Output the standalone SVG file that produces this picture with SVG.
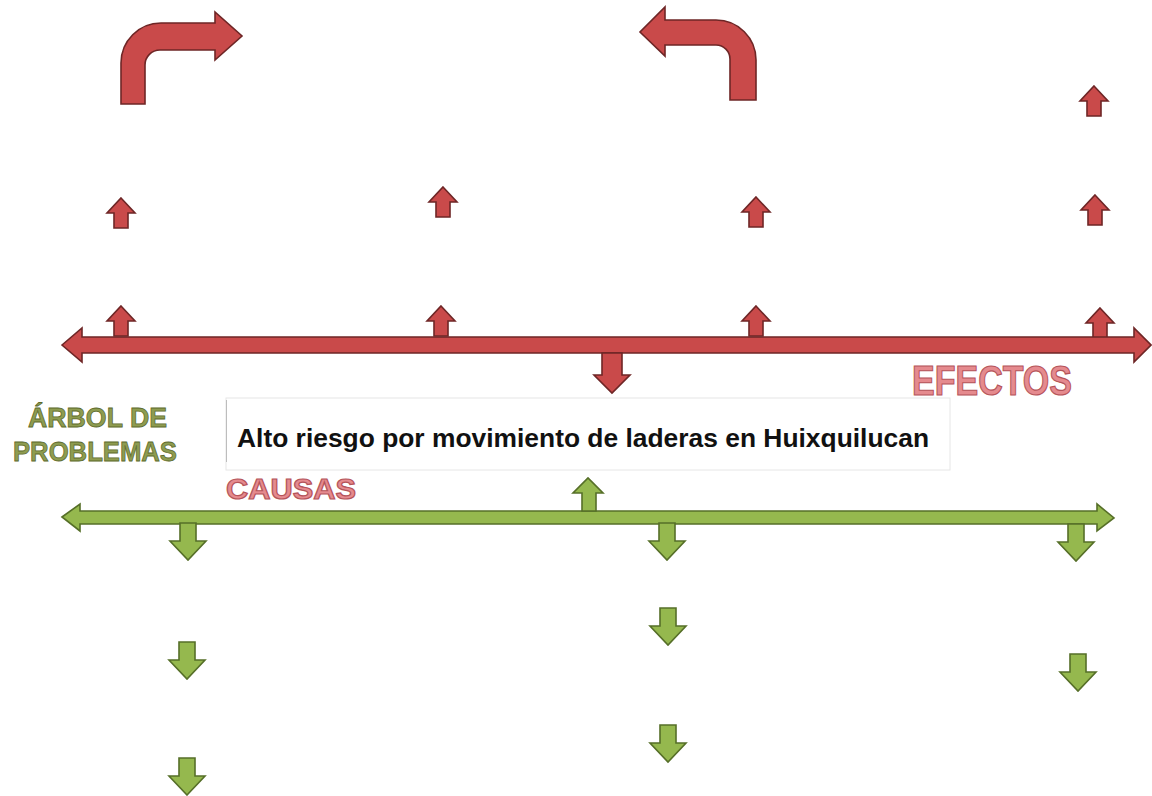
<svg xmlns="http://www.w3.org/2000/svg" width="1152" height="796" viewBox="0 0 1152 796">
<style>
.red{fill:#c94a4a;stroke:#6e2626;stroke-width:1.6;stroke-linejoin:miter}
.grn{fill:#95b84e;stroke:#566f28;stroke-width:1.6;stroke-linejoin:miter}
.ttl{font-family:"Liberation Sans","DejaVu Sans",sans-serif;font-weight:bold;fill:#8e9c50;stroke:#5d6a2c;stroke-width:0.8}
.lbl{font-family:"Liberation Sans","DejaVu Sans",sans-serif;font-weight:bold;fill:#e58a8e;stroke:#b5545a;stroke-width:1.2}
.main{font-family:"Liberation Sans","Arial",sans-serif;font-weight:bold;fill:#111}
</style>
<defs>
<path id="up" d="M0,0 L14,15 L7,15 L7,30 L-7,30 L-7,15 L-14,15 Z"/>
<path id="dn" d="M-8,0 L8,0 L8,18 L18,18 L0,37 L-18,18 L-8,18 Z"/>
</defs>
<rect width="1152" height="796" fill="#ffffff"/>

<g id="connectors">
  <path class="red" d="M121,104 L121,63 A40,40 0 0 1 161,23 L215,23 L215,12 L242,36 L215,60 L215,50 L160,50 A15,15 0 0 0 145,65 L145,104 Z"/>
  <path class="red" d="M756,100 L756,60 A40,40 0 0 0 716,20 L665,20 L665,7 L640,32 L665,56 L665,45 L716,45 A14,14 0 0 1 730,59 L730,100 Z"/>
  <use href="#up" class="red" x="1094" y="86"/>
  <use href="#up" class="red" x="121" y="198"/>
  <use href="#up" class="red" x="443" y="187"/>
  <use href="#up" class="red" x="756" y="197"/>
  <use href="#up" class="red" x="1095" y="195"/>
  <use href="#up" class="red" x="121" y="306"/>
  <use href="#up" class="red" x="441" y="306"/>
  <use href="#up" class="red" x="756" y="306"/>
  <use href="#up" class="red" x="1100" y="308"/>
  <path class="red" d="M62,345 L82,328 L82,337 L1134,337 L1134,328 L1151,345 L1134,362 L1134,353 L82,353 L82,362 Z"/>
  <path class="red" d="M602,353 L622,353 L622,375 L630,375 L612,393 L594,375 L602,375 Z"/>
  <path class="grn" d="M62,517 L80,504 L80,511 L1097,511 L1097,504 L1114,518 L1097,531 L1097,524 L80,524 L80,531 Z"/>
  <path class="grn" d="M582,511 L582,493 L573,493 L588,478 L603,493 L596,493 L596,511 Z"/>
  <use href="#dn" class="grn" x="188" y="523"/>
  <use href="#dn" class="grn" x="667" y="523"/>
  <use href="#dn" class="grn" x="1076" y="524"/>
  <use href="#dn" class="grn" x="187" y="642"/>
  <use href="#dn" class="grn" x="187" y="758"/>
  <use href="#dn" class="grn" x="668" y="608"/>
  <use href="#dn" class="grn" x="668" y="725"/>
  <use href="#dn" class="grn" x="1078" y="654"/>
</g>

<g id="problem">
  <rect x="226" y="398" width="724" height="72" fill="#ffffff" stroke="#e6e6e6" stroke-width="1"/>
  <line x1="226.5" y1="400" x2="226.5" y2="462" stroke="#bdbdbd" stroke-width="1"/>
  <text class="main" x="237" y="447" font-size="26" textLength="692" lengthAdjust="spacingAndGlyphs">Alto riesgo por movimiento de laderas en Huixquilucan</text>
</g>

<g id="title">
  <text class="ttl" x="28" y="427" font-size="28" textLength="139" lengthAdjust="spacingAndGlyphs">ÁRBOL DE</text>
  <text class="ttl" x="13" y="461" font-size="28" textLength="164" lengthAdjust="spacingAndGlyphs">PROBLEMAS</text>
</g>

<g id="efectos">
  <text class="lbl" x="912" y="395" font-size="42" textLength="160" lengthAdjust="spacingAndGlyphs">EFECTOS</text>
</g>

<g id="causas">
  <text class="lbl" x="226" y="499" font-size="29" textLength="130" lengthAdjust="spacingAndGlyphs">CAUSAS</text>
</g>
</svg>
